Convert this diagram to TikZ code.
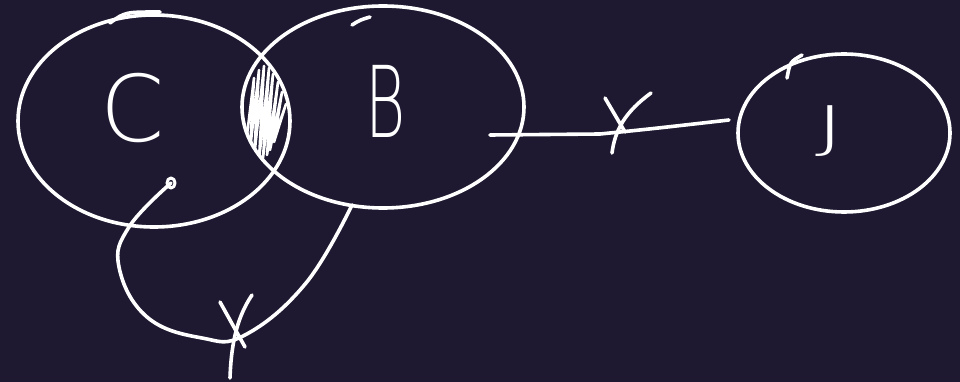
\documentclass[tikz,border=0pt]{standalone}
\usepackage{fontspec}
\newfontfamily\hand{DejaVu Sans ExtraLight}
\usetikzlibrary{shapes.geometric}
\definecolor{board}{RGB}{30,25,48}
\begin{document}
\begin{tikzpicture}[x=1pt, y=-1pt, line cap=round, line join=round,
  chalk/.style={draw=white, line width=3.6pt},
  blob/.style={chalk, ellipse, inner sep=0pt, outer sep=0pt},
  letter/.style={text=white, inner sep=0pt}]
  \fill[board] (0,0) rectangle (960,382);
  \useasboundingbox (0,0) rectangle (960,382);
  % the three sets
  \node[blob, minimum width=272pt, minimum height=212pt] (C) at (154,121) {};
  \node[blob, minimum width=282pt, minimum height=202pt] (B) at (383,107) {};
  \node[blob, minimum width=212pt, minimum height=158pt] (J) at (844,133) {};
  \node[letter, font=\hand\fontsize{92}{92}\selectfont] (Ctext) at (133,108) {C};
  \node[letter, font=\hand\fontsize{99}{99}\selectfont, xscale=0.62] (Btext) at (386,101) {B};
  \node[letter, font=\hand\fontsize{56}{56}\selectfont, xscale=1.8] (Jtext) at (830,131) {J};
  % stroke ends
  \draw[chalk] (110,23) .. controls (125,12) .. (160,12);
  \draw[chalk] (352,25) .. controls (360,20) .. (370,17);
  \draw[chalk] (787,78) .. controls (790,62) .. (802,55);
  % shaded overlap
  \begin{scope}
    \clip (154,121) ellipse (136 and 106);
    \clip (383,107) ellipse (141 and 101);
    \draw[draw=white, line width=2.6pt] plot coordinates {(247,135) (254,78) (250,150)
      (259,70) (254,158) (264,66) (259,160) (269,68) (263,158) (273,74) (267,155)
      (278,82) (270,150) (282,92) (274,142) (286,104) (277,130)};
  \end{scope}
  % connectors
  \coordinate (bjStart) at (490,135);
  \coordinate (bjEnd) at (729,120);
  \draw[chalk] (bjStart) -- (600,134) .. controls (650,129) .. (bjEnd);
  \draw[chalk] (605,98) .. controls (615,115) .. (625,132);
  \draw[chalk] (651,93) .. controls (625,112) and (615,130) .. (612,153);
  \coordinate (loopStart) at (171,183);
  \coordinate (loopEnd) at (352,205);
  \draw[chalk, line width=3pt] (loopStart) ellipse (4 and 5);
  \draw[chalk] plot[smooth, tension=0.7] coordinates {(loopStart) (129,227) (119,267)
    (147,317) (202,338) (245,335) (306,283) (loopEnd)};
  \draw[chalk] (220,302) .. controls (232,325) .. (245,347);
  \draw[chalk] (252,295) .. controls (235,320) and (231,350) .. (230,378);
\end{tikzpicture}
\end{document}
